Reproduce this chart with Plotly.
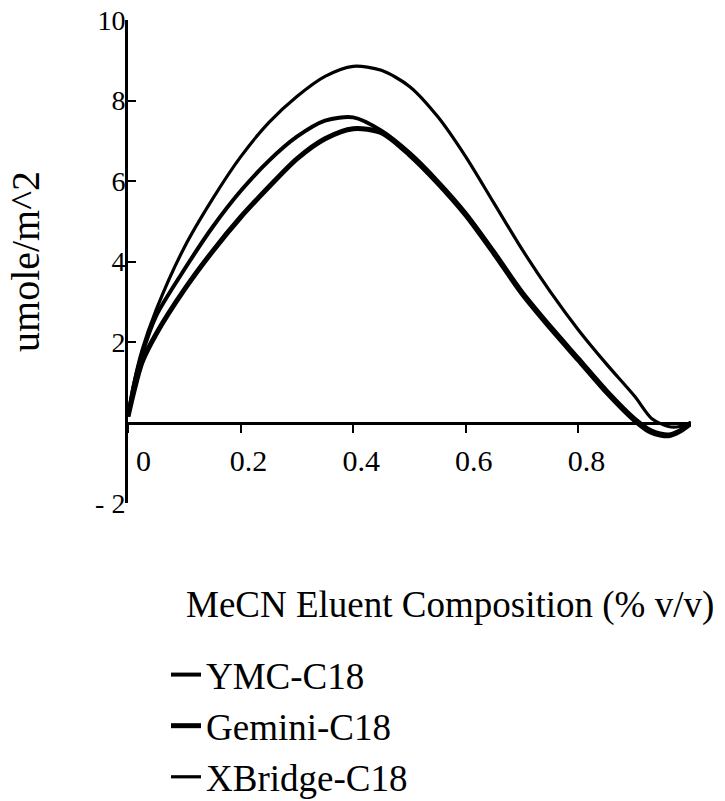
import plotly.graph_objects as go

# MeCN fraction in the eluent
composition = [0, 0.01, 0.025, 0.05, 0.1, 0.15, 0.2, 0.25, 0.3, 0.35, 0.4, 0.45,
               0.5, 0.55, 0.6, 0.65, 0.7, 0.75, 0.8, 0.85, 0.9, 0.93, 0.96, 0.98, 1.0]

# excess adsorption, umole/m^2
ymc_c18 = [0.15, 0.9, 1.7, 2.65, 3.8, 4.85, 5.75, 6.5, 7.1, 7.5, 7.58, 7.25,
           6.7, 6.0, 5.2, 4.25, 3.25, 2.4, 1.6, 0.8, 0.1, -0.2, -0.3, -0.2, 0.0]
gemini_c18 = [0.15, 0.75, 1.5, 2.2, 3.3, 4.25, 5.1, 5.85, 6.55, 7.05, 7.3, 7.2,
              6.65, 5.95, 5.15, 4.2, 3.2, 2.35, 1.55, 0.75, 0.05, -0.25, -0.33, -0.22, -0.02]
xbridge_c18 = [0.15, 0.95, 1.8, 2.8, 4.35, 5.55, 6.6, 7.45, 8.1, 8.6, 8.85, 8.75,
               8.35, 7.6, 6.6, 5.45, 4.3, 3.25, 2.3, 1.45, 0.65, 0.1, -0.1, -0.1, 0.0]

series_names = ["YMC-C18", "Gemini-C18", "XBridge-C18"]
series_widths = [4, 5, 3.2]

x_tickvals = [0, 0.2, 0.4, 0.6, 0.8]
x_ticktext = ["\u00a0\u00a00", "0.2", "0.4", "0.6", "0.8"]
y_tickvals = [-2, 2, 4, 6, 8, 10]
y_ticktext = ["- 2", "2", "4", "6", "8", "10"]

SERIF = "'Liberation Serif', 'DejaVu Serif', serif"

fig = go.Figure()
for name, values, w in zip(series_names, [ymc_c18, gemini_c18, xbridge_c18], series_widths):
    fig.add_trace(go.Scatter(
        x=composition, y=values, name=name, mode="lines",
        line=dict(color="black", width=w, shape="spline", smoothing=0.8),
        cliponaxis=False,
    ))

y_min, y_max = -2, 10
zero_pos = (0 - y_min) / (y_max - y_min)

fig.update_layout(
    width=725, height=801,
    margin=dict(l=128, r=34, t=20, b=298, autoexpand=False),
    paper_bgcolor="white", plot_bgcolor="white",
    font=dict(family=SERIF, color="black"),
    showlegend=True,
    legend=dict(
        x=0.0675, y=-0.292, xanchor="left", yanchor="top",
        font=dict(family=SERIF, size=37, color="black"),
        bgcolor="rgba(0,0,0,0)", tracegroupgap=0,
    ),
    xaxis=dict(
        range=[0, 1], anchor="free", position=zero_pos,
        showline=True, linecolor="black", linewidth=3,
        showgrid=False, zeroline=False,
        ticks="outside", ticklen=8, tickwidth=2, tickcolor="black",
        tickvals=x_tickvals, ticktext=x_ticktext,
        tickfont=dict(family=SERIF, size=30, color="black"),
        ticklabelshift=8, ticklabelstandoff=2,
    ),
    xaxis2=dict(
        range=[0, 1], overlaying="x", anchor="free", position=zero_pos,
        showline=False, showgrid=False, zeroline=False,
        ticks="inside", ticklen=8, tickwidth=2, tickcolor="black",
        tickvals=x_tickvals, showticklabels=False,
    ),
    yaxis=dict(
        range=[y_min, y_max],
        showline=True, linecolor="black", linewidth=3,
        showgrid=False, zeroline=False,
        ticks="inside", ticklen=8, tickwidth=2, tickcolor="black",
        tickvals=y_tickvals, ticktext=y_ticktext,
        tickfont=dict(family=SERIF, size=28, color="black"),
        ticklabelstandoff=-6,
        title=dict(text="umole/m^2", font=dict(family=SERIF, size=40, color="black"),
                   standoff=44),
    ),
    annotations=[dict(
        text="MeCN Eluent Composition (% v/v)",
        xref="paper", yref="paper", x=0.572, y=-0.211,
        xanchor="center", yanchor="middle", showarrow=False,
        font=dict(family=SERIF, size=37, color="black"),
    )],
)

fig.write_html("out.html")
